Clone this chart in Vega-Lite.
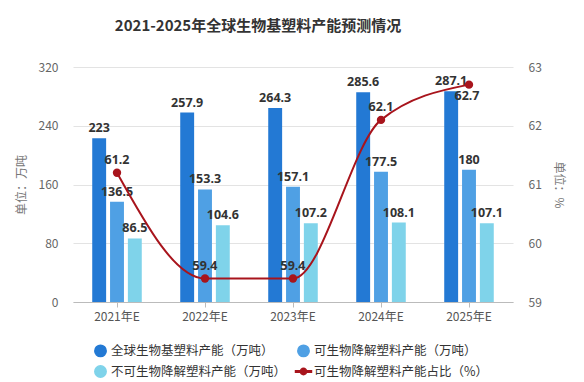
{
  "$schema": "https://vega.github.io/schema/vega-lite/v6.json",
  "width": 440,
  "height": 235,
  "padding": {"left": 15, "top": 19, "right": 10, "bottom": 5},
  "background": "white",
  "config": {"view": {"stroke": null}, "font": "Noto Sans CJK SC"},
  "title": {
    "text": "2021-2025年全球生物基塑料产能预测情况",
    "font": "Noto Sans CJK SC",
    "fontSize": 15,
    "fontWeight": "bold",
    "color": "#333333",
    "anchor": "middle",
    "dx": -35,
    "offset": 27
  },
  "data": {
    "values": [
      {"year": "2021年E", "series": "全球生物基塑料产能（万吨）", "value": 223},
      {"year": "2021年E", "series": "可生物降解塑料产能（万吨）", "value": 136.5},
      {"year": "2021年E", "series": "不可生物降解塑料产能（万吨）", "value": 86.5},
      {"year": "2021年E", "series": "可生物降解塑料产能占比（%）", "value": 61.2},
      {"year": "2022年E", "series": "全球生物基塑料产能（万吨）", "value": 257.9},
      {"year": "2022年E", "series": "可生物降解塑料产能（万吨）", "value": 153.3},
      {"year": "2022年E", "series": "不可生物降解塑料产能（万吨）", "value": 104.6},
      {"year": "2022年E", "series": "可生物降解塑料产能占比（%）", "value": 59.4},
      {"year": "2023年E", "series": "全球生物基塑料产能（万吨）", "value": 264.3},
      {"year": "2023年E", "series": "可生物降解塑料产能（万吨）", "value": 157.1},
      {"year": "2023年E", "series": "不可生物降解塑料产能（万吨）", "value": 107.2},
      {"year": "2023年E", "series": "可生物降解塑料产能占比（%）", "value": 59.4},
      {"year": "2024年E", "series": "全球生物基塑料产能（万吨）", "value": 285.6},
      {"year": "2024年E", "series": "可生物降解塑料产能（万吨）", "value": 177.5},
      {"year": "2024年E", "series": "不可生物降解塑料产能（万吨）", "value": 108.1},
      {"year": "2024年E", "series": "可生物降解塑料产能占比（%）", "value": 62.1},
      {"year": "2025年E", "series": "全球生物基塑料产能（万吨）", "value": 287.1},
      {"year": "2025年E", "series": "可生物降解塑料产能（万吨）", "value": 180},
      {"year": "2025年E", "series": "不可生物降解塑料产能（万吨）", "value": 107.1},
      {"year": "2025年E", "series": "可生物降解塑料产能占比（%）", "value": 62.7}
    ]
  },
  "layer": [
    {
      "transform": [{"filter": "datum.series !== '可生物降解塑料产能占比（%）'"}],
      "encoding": {
        "x": {
          "field": "year", "type": "nominal", "sort": null,
          "scale": {"paddingInner": 0.437, "paddingOuter": 0.2185},
          "axis": {
            "title": null, "labelAngle": 0, "domainColor": "#bbbbbb", "tickColor": "#bbbbbb",
            "tickSize": 5, "labelColor": "#555555", "labelFontSize": 12, "labelPadding": 4,
            "labelFont": "Noto Sans CJK SC"
          }
        },
        "xOffset": {
          "field": "series", "type": "nominal",
          "sort": ["全球生物基塑料产能（万吨）", "可生物降解塑料产能（万吨）", "不可生物降解塑料产能（万吨）"],
          "scale": {"paddingInner": 0.22, "paddingOuter": 0}
        },
        "y": {
          "field": "value", "type": "quantitative",
          "scale": {"domain": [0, 320], "nice": false},
          "axis": {
            "values": [0, 80, 160, 240, 320], "title": "单位：万吨", "titleColor": "#777777",
            "titleFontWeight": "normal", "titleFontSize": 12, "titleFont": "Noto Sans CJK SC",
            "labelColor": "#666666", "labelFontSize": 12, "domain": false, "ticks": false,
            "gridColor": "#e3e3e3", "labelPadding": 15, "titlePadding": 10
          }
        }
      },
      "layer": [
        {
          "mark": {"type": "bar"},
          "encoding": {
            "color": {
              "field": "series", "type": "nominal",
              "scale": {
                "domain": ["全球生物基塑料产能（万吨）", "可生物降解塑料产能（万吨）", "不可生物降解塑料产能（万吨）", "可生物降解塑料产能占比（%）"],
                "range": ["#2379d4", "#4fa0e4", "#7fd3ea", "#a8141c"]
              },
              "legend": {
                "title": null, "orient": "none", "legendX": 21, "legendY": 277, "columns": 2,
                "direction": "horizontal",
                "symbolType": "circle", "symbolSize": 130, "labelFontSize": 12.5, "labelColor": "#333333",
                "labelFont": "Noto Sans CJK SC", "columnPadding": 5, "rowPadding": 2, "symbolOpacity": 1,
                "labelLimit": 300,
                "encode": {
                  "symbols": {
                    "update": {
                      "shape": {"signal": "datum.value === '可生物降解塑料产能占比（%）' ? 'M-1.4,-0.12H1.4V0.12H-1.4Z M0.55,0A0.55,0.55 0 1 1 -0.55,0A0.55,0.55 0 1 1 0.55,0Z' : 'circle'"}
                    }
                  }
                }
              }
            }
          }
        },
        {
          "mark": {"type": "text", "baseline": "bottom", "dy": -3, "fontWeight": "bold", "fontSize": 12.5, "font": "Noto Sans", "color": "#333333"},
          "encoding": {"text": {"field": "value", "type": "quantitative"}}
        }
      ]
    },
    {
      "transform": [{"filter": "datum.series === '可生物降解塑料产能占比（%）'"}],
      "encoding": {
        "x": {"field": "year", "type": "nominal", "sort": null},
        "y": {
          "field": "value", "type": "quantitative",
          "scale": {"domain": [59, 63], "nice": false},
          "axis": {
            "orient": "right", "values": [59, 60, 61, 62, 63], "title": "单位：%", "titleColor": "#777777",
            "titleFontWeight": "normal", "titleFontSize": 12, "titleFont": "Noto Sans CJK SC",
            "labelColor": "#666666", "labelFontSize": 12, "domain": false, "ticks": false, "grid": false,
            "labelPadding": 15, "titlePadding": 10
          }
        }
      },
      "layer": [
        {
          "mark": {"type": "line", "interpolate": "monotone", "strokeWidth": 2},
          "encoding": {"color": {"field": "series", "type": "nominal"}}
        },
        {
          "mark": {"type": "point", "filled": true, "size": 70, "opacity": 1},
          "encoding": {"color": {"field": "series", "type": "nominal"}}
        },
        {
          "transform": [{"filter": "datum.year !== '2025年E'"}],
          "mark": {"type": "text", "baseline": "bottom", "dy": -6, "fontWeight": "bold", "fontSize": 12.5, "font": "Noto Sans", "color": "#333333"},
          "encoding": {"text": {"field": "value", "type": "quantitative", "format": ".1f"}}
        },
        {
          "transform": [{"filter": "datum.year === '2025年E'"}],
          "mark": {"type": "text", "baseline": "top", "dy": 5, "dx": -2, "fontWeight": "bold", "fontSize": 12.5, "font": "Noto Sans", "color": "#333333"},
          "encoding": {"text": {"field": "value", "type": "quantitative", "format": ".1f"}}
        }
      ]
    }
  ],
  "resolve": {"scale": {"y": "independent"}}
}
